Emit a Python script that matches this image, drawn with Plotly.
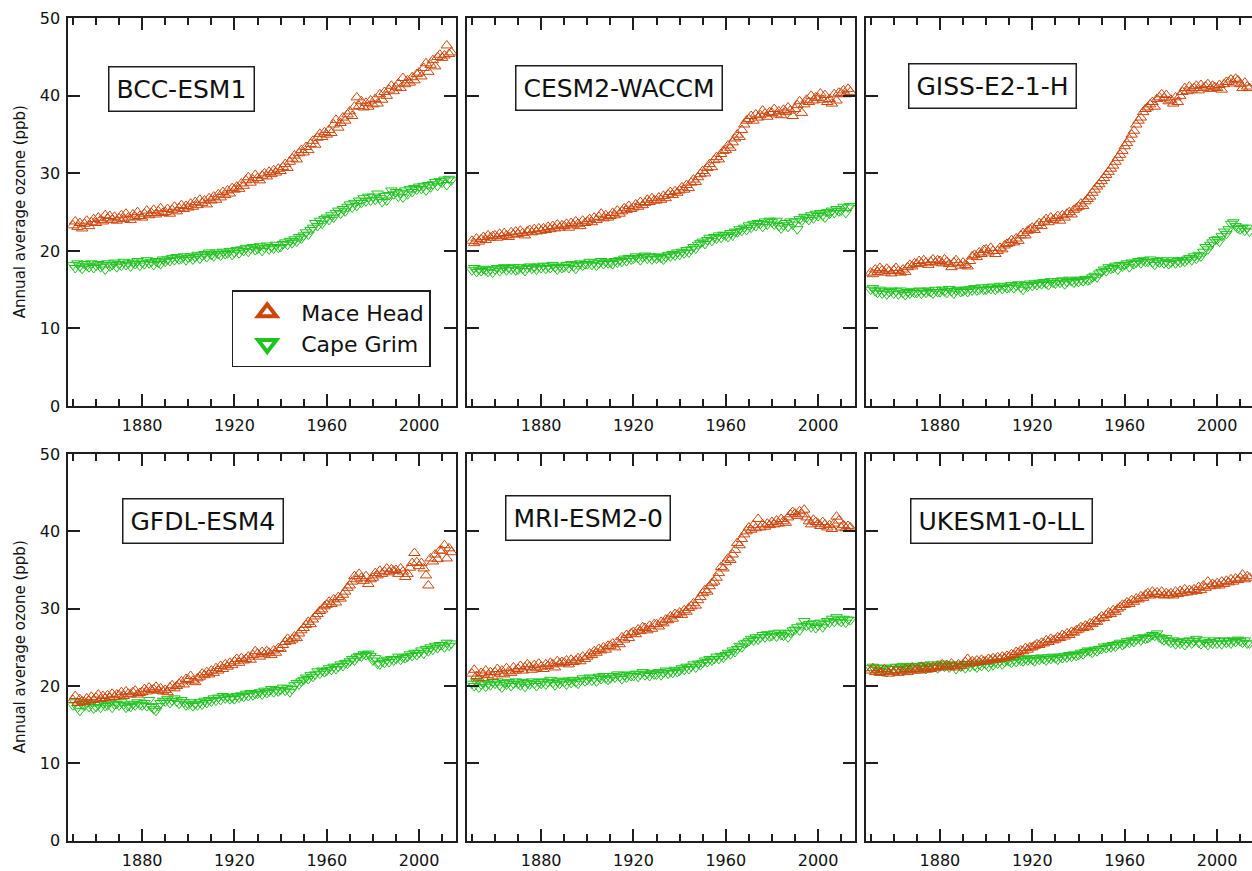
import plotly.graph_objects as go

years = list(range(1850, 2015))

models = ["BCC-ESM1", "CESM2-WACCM", "GISS-E2-1-H", "GFDL-ESM4", "MRI-ESM2-0", "UKESM1-0-LL"]
series_names = ["Mace Head", "Cape Grim"]
x_tick_vals = [1880, 1920, 1960, 2000]
y_tick_vals = [0, 10, 20, 30, 40, 50]
y_title = "Annual average ozone (ppb)"

bcc_mh = [23.3, 23.8, 23.1, 23.6, 22.9, 23.5, 23.9, 23.2, 23.7, 24.1,
          23.6, 24.3, 24.0, 23.8, 24.6, 24.2, 24.5, 24.0, 24.4, 23.9,
          24.2, 24.6, 24.1, 24.8, 24.3, 24.0, 24.7, 24.4, 25.0, 24.5,
          24.3, 24.8, 25.2, 24.6, 24.9, 25.3, 24.7, 25.1, 25.5, 24.9,
          25.0, 25.4, 24.8, 25.3, 25.7, 25.1, 25.5, 25.9, 25.4, 25.8,
          25.6, 26.1, 25.7, 26.3, 25.9, 26.6, 26.2, 26.5, 26.0, 26.8,
          26.5, 27.0, 26.6, 27.3, 26.9, 27.6, 27.2, 27.8, 27.4, 28.1,
          27.9, 28.3, 28.0, 28.7, 28.4, 29.1, 29.5, 28.8, 29.2, 29.8,
          29.4, 29.1, 29.7, 30.0, 29.6, 30.2, 29.9, 30.4, 30.1, 30.6,
          30.3, 30.8, 31.2, 30.7, 31.5, 31.9, 32.3, 31.8, 32.6, 33.0,
          32.7, 33.4, 33.0, 33.8, 34.2, 33.7, 34.6, 35.1, 34.7, 35.3,
          35.0, 35.6, 35.2, 36.3, 36.9, 35.9, 36.5, 37.2, 36.8, 37.6,
          38.0, 37.4, 38.6, 39.8, 38.7, 39.3, 38.5, 39.1, 38.6, 39.4,
          38.9, 39.6, 39.0, 40.2, 39.5, 40.5, 40.0, 40.8, 41.3, 40.6,
          41.1, 41.6, 41.0, 42.3, 41.5, 42.0, 41.7, 42.4, 42.0, 42.8,
          43.0, 42.5, 43.6, 44.2, 43.1, 44.0, 44.6, 43.8, 45.0, 45.3,
          44.9, 45.2, 46.5, 45.4, 45.6]
bcc_cg = [18.2, 17.8, 18.4, 18.0, 17.7, 18.3, 18.1, 17.9, 18.4, 17.8,
          18.1, 18.3, 17.9, 18.2, 17.6, 18.4, 18.0, 18.2, 18.5, 17.9,
          18.3, 18.1, 18.6, 18.2, 18.4, 18.0, 18.5, 18.3, 18.7, 18.1,
          18.5, 18.3, 18.8, 18.4, 18.6, 18.2, 18.7, 18.5, 18.3, 18.9,
          18.6, 18.9, 18.7, 19.1, 18.8, 19.2, 18.9, 19.0, 19.3, 18.8,
          19.1, 19.3, 18.9, 19.2, 19.5, 19.0, 19.4, 19.6, 19.2, 19.8,
          19.5, 19.3, 19.8, 19.6, 19.4, 19.9, 19.6, 19.7, 20.0, 19.5,
          19.8, 20.1, 19.7, 20.2, 20.0, 20.4, 19.9, 20.3, 20.5, 20.1,
          20.3, 20.6, 20.0, 20.4, 20.7, 20.2, 20.5, 20.3, 20.8, 20.4,
          20.5, 20.9, 21.1, 20.8, 21.3, 21.0, 21.5, 21.2, 21.8, 21.6,
          22.0, 22.4, 22.1, 22.7, 23.0, 23.6, 23.2, 23.9, 23.5, 24.1,
          24.3, 24.0, 24.6, 24.3, 24.9, 25.2, 24.8, 25.4, 25.1, 25.7,
          26.0, 25.6, 26.2, 25.8, 26.5, 26.2, 26.8, 26.4, 27.0, 26.5,
          27.0, 26.6, 27.4, 26.8, 26.3, 27.1, 26.5, 27.2, 27.8, 27.3,
          27.6, 27.0, 27.5, 26.9, 27.8, 27.3, 28.0, 27.6, 28.1, 27.9,
          28.3, 28.0, 28.4, 27.8, 28.5, 28.2, 28.6, 28.9, 28.4, 29.0,
          28.8, 29.2, 28.5, 29.3, 29.1]

cesm_mh = [21.3, 21.0, 21.6, 21.2, 21.5, 21.8, 21.4, 22.0, 21.7, 21.9,
           22.0, 21.7, 22.2, 21.9, 22.3, 22.0, 21.8, 22.4, 22.1, 22.5,
           22.2, 22.6, 22.3, 22.0, 22.5, 22.7, 22.4, 22.8, 22.5, 22.9,
           22.6, 22.9, 22.7, 23.1, 22.8, 23.2, 22.9, 23.4, 23.0, 23.3,
           23.2, 23.5, 23.0, 23.6, 23.3, 23.8, 23.5, 23.2, 23.9, 23.6,
           23.8, 24.1, 23.7, 24.3, 24.0, 24.4, 24.8, 24.2, 24.6, 24.3,
           24.5, 24.9, 24.6, 25.2, 24.8, 25.1, 25.5, 25.3, 25.8, 25.4,
           25.6, 26.0, 25.7, 26.3, 25.9, 26.2, 26.6, 26.3, 26.8, 26.5,
           26.5, 26.9, 26.6, 27.1, 26.8, 27.3, 27.6, 27.2, 27.7, 27.5,
           27.8, 28.2, 27.9, 28.5, 28.1, 28.8, 29.2, 28.9, 29.5, 29.9,
           30.3, 30.0, 30.7, 31.2, 30.8, 31.7, 32.1, 31.8, 32.5, 32.9,
           33.0, 33.6, 33.3, 34.0, 34.5, 35.0, 34.7, 35.6, 36.3, 36.8,
           37.0, 37.4, 36.8, 37.6, 37.2, 37.5, 38.1, 37.7, 37.3, 37.9,
           37.8, 38.3, 37.6, 38.0, 37.5, 38.2, 37.9, 38.5, 38.1, 37.4,
           38.3, 38.8, 39.3, 37.8, 38.9, 39.5, 39.2, 40.0, 39.4, 39.8,
           39.7, 40.3, 39.5, 40.1, 39.2, 39.6, 39.0, 40.2, 39.4, 40.4,
           40.3, 40.7, 40.2, 40.9, 40.5]
cesm_cg = [17.5, 17.8, 17.3, 17.6, 17.4, 17.7, 17.5, 17.3, 17.6, 17.2,
           17.6, 17.8, 17.4, 17.7, 17.9, 17.5, 17.8, 17.6, 17.9, 17.5,
           17.6, 17.9, 17.7, 17.4, 17.8, 18.0, 17.7, 17.9, 17.6, 18.0,
           17.8, 18.1, 17.7, 18.0, 17.8, 18.2, 17.9, 17.6, 18.0, 17.8,
           17.9, 18.2, 17.8, 18.3, 18.0, 17.7, 18.2, 18.4, 18.1, 18.3,
           18.3, 18.6, 18.2, 18.5, 18.1, 18.4, 18.7, 18.3, 18.6, 18.4,
           18.5, 18.3, 18.7, 18.5, 18.8, 18.6, 19.0, 18.7, 19.1, 18.9,
           19.0, 19.3, 19.1, 18.8, 19.2, 19.4, 19.0, 19.3, 18.9, 19.2,
           19.0, 19.3, 19.1, 18.9, 19.2, 19.5, 19.3, 19.6, 19.4, 19.8,
           19.5, 19.9, 19.7, 20.1, 19.8, 20.2, 20.5, 20.3, 20.8, 21.0,
           21.2, 20.9, 21.4, 21.7, 21.3, 21.8, 21.6, 22.0, 21.7, 22.1,
           22.0, 21.8, 22.3, 22.0, 22.5, 22.4, 22.8, 22.6, 23.0, 22.7,
           23.3, 23.0, 23.5, 23.2, 23.6, 23.5, 23.1, 23.8, 23.4, 23.9,
           23.7, 23.4, 23.9, 23.2, 22.9, 23.3, 23.6, 23.1, 23.8, 23.4,
           23.8, 22.8, 24.1, 23.9, 24.4, 24.3, 24.0, 24.6, 24.2, 24.8,
           24.5, 24.9, 24.6, 24.3, 25.0, 24.8, 25.2, 24.9, 25.4, 25.1,
           25.2, 25.7, 24.9, 25.6, 25.8]

giss_mh = [17.2, 17.0, 17.6, 17.3, 17.8, 17.5, 17.2, 17.7, 17.4, 17.1,
           17.5, 17.8, 17.4, 17.2, 17.6, 17.3, 17.9, 18.2, 18.0, 18.4,
           18.3, 18.7, 18.4, 18.8, 18.5, 18.2, 18.6, 18.9, 18.5, 18.8,
           18.7, 18.4, 18.9, 18.6, 18.3, 17.9, 18.5, 18.8, 18.4, 18.1,
           18.5, 18.2, 18.0, 18.7, 19.3, 19.5, 19.2, 19.8, 19.6, 20.1,
           20.2, 19.8, 20.4, 20.0, 19.6, 20.0, 20.4, 20.2, 20.7, 20.9,
           21.0, 21.4, 21.1, 21.6, 21.3, 22.0, 22.3, 22.0, 22.6, 22.8,
           23.0, 22.7, 23.3, 23.6, 23.2, 23.8, 24.1, 23.7, 24.3, 24.0,
           24.2, 24.5, 23.9, 24.6, 24.3, 24.8, 25.0, 24.7, 25.3, 25.5,
           25.7, 26.1, 25.8, 26.4, 26.7, 27.0, 27.5, 27.9, 28.3, 28.6,
           29.0, 29.4, 29.8, 30.2, 30.6, 31.0, 31.5, 32.0, 32.4, 32.9,
           33.5, 33.9, 34.4, 35.0, 35.5, 36.3, 36.8, 37.2, 37.9, 38.3,
           38.5, 38.9, 39.2, 38.6, 39.6, 39.8, 40.2, 39.7, 40.1, 39.3,
           39.5, 39.0, 39.8, 39.2, 40.0, 40.5, 41.0, 40.6, 41.2, 40.8,
           41.0, 41.3, 40.7, 41.4, 41.0, 41.2, 41.5, 40.9, 41.3, 41.1,
           41.0, 41.4, 40.8, 41.5, 41.8, 41.8, 42.1, 41.6, 42.2, 42.0,
           41.5, 41.0, 41.7, 41.2, 41.0]
giss_cg = [15.0, 15.2, 14.8, 14.6, 15.0, 14.5, 14.8, 14.4, 14.7, 14.9,
           14.5, 14.8, 14.4, 14.9, 14.6, 14.3, 14.7, 14.5, 14.8, 14.6,
           14.6, 14.9, 14.5, 14.8, 14.6, 14.9, 14.7, 14.5, 15.0, 14.7,
           14.7, 15.0, 14.8, 14.6, 15.1, 14.8, 14.5, 14.9, 15.0, 14.7,
           14.8, 15.0, 14.7, 15.1, 14.9, 15.2, 14.9, 15.0, 15.3, 15.0,
           15.0, 15.3, 15.1, 15.4, 15.0, 15.2, 15.5, 15.1, 15.4, 15.2,
           15.3, 15.6, 15.2, 15.5, 15.7, 15.3, 15.0, 15.6, 15.4, 15.8,
           15.5, 15.8, 15.6, 15.9, 15.7, 16.0, 15.8, 15.6, 16.1, 15.9,
           15.8, 16.1, 15.9, 16.2, 15.7, 16.0, 16.3, 16.1, 15.9, 16.2,
           16.0, 16.3, 16.1, 16.4, 16.2, 16.3, 16.6, 16.8, 16.6, 17.1,
           17.3, 17.6, 17.4, 17.9, 17.7, 17.8, 18.1, 17.6, 18.2, 18.0,
           18.2, 18.4, 17.9, 18.5, 18.3, 18.5, 18.7, 18.4, 18.8, 18.6,
           18.6, 18.9, 18.5, 18.2, 18.7, 18.5, 18.8, 18.4, 18.6, 18.3,
           18.5, 18.8, 18.4, 18.7, 18.5, 18.8, 18.6, 18.9, 19.1, 18.8,
           19.3, 19.0, 19.5, 19.3, 19.9, 20.5, 20.2, 20.8, 21.1, 21.4,
           21.5, 21.2, 21.9, 22.5, 22.2, 22.8, 23.5, 23.7, 23.2, 22.9,
           22.8, 23.0, 22.6, 23.0, 22.5]

gfdl_mh = [18.2, 18.7, 17.8, 18.3, 18.0, 17.9, 18.4, 18.1, 18.6, 18.2,
           18.5, 18.9, 18.3, 18.7, 18.4, 18.8, 18.5, 19.0, 18.6, 18.9,
           18.8, 19.2, 18.7, 19.3, 19.0, 18.9, 19.2, 19.4, 18.9, 19.1,
           19.2, 19.6, 19.3, 19.8, 19.5, 19.6, 19.9, 19.4, 19.7, 19.3,
           19.5, 19.2, 19.8, 20.1, 19.7, 20.0, 20.3, 20.6, 20.2, 20.9,
           20.8, 21.3, 20.7, 20.5, 21.0, 21.2, 21.6, 21.4, 21.8, 21.5,
           22.0, 21.7, 22.3, 22.0, 22.6, 22.2, 22.8, 22.5, 23.0, 22.7,
           23.2, 23.5, 23.0, 23.6, 23.3, 23.5, 23.8, 23.4, 24.0, 24.5,
           24.2, 23.8, 24.4, 24.1, 24.5, 24.3, 24.0, 24.6, 24.3, 24.9,
           24.8, 25.3, 25.7, 26.1, 25.8, 26.0, 26.4, 26.2, 26.8, 27.2,
           27.5, 27.9, 28.3, 28.0, 28.6, 29.0, 29.3, 29.7, 29.9, 30.3,
           30.5, 30.9, 30.6, 31.2, 30.8, 31.5, 31.3, 31.8, 32.2, 32.7,
           33.0, 33.5, 34.2, 33.8, 34.5, 34.0, 33.6, 34.2, 33.2, 33.8,
           34.0, 34.6, 34.3, 34.9, 34.5, 34.8, 35.2, 34.7, 35.1, 34.9,
           35.0, 34.5, 35.2, 34.8, 34.1, 34.5, 35.3, 35.9, 37.2, 36.0,
           35.5, 35.9, 35.2, 34.3, 33.0, 36.5, 36.1, 37.0, 36.4, 37.5,
           37.5, 38.2, 36.5, 37.8, 37.3]
gfdl_cg = [17.5, 17.9, 17.2, 16.8, 17.6, 17.4, 17.9, 17.3, 17.7, 17.1,
           17.3, 17.6, 17.2, 17.8, 17.4, 17.5, 17.9, 17.2, 17.6, 17.7,
           17.5, 17.9, 17.6, 17.2, 17.4, 17.3, 17.7, 17.5, 17.9, 17.6,
           17.5, 17.8, 17.4, 18.2, 17.3, 17.0, 16.8, 17.4, 17.8, 18.1,
           18.0, 18.3, 17.8, 18.1, 18.4, 18.0, 17.7, 18.2, 17.9, 17.5,
           17.6, 17.9, 17.4, 17.7, 17.5, 17.9, 17.6, 18.1, 17.8, 18.2,
           18.0, 18.4, 18.1, 18.5, 18.2, 18.7, 18.4, 18.6, 18.3, 18.5,
           18.3, 18.7, 18.5, 18.8, 18.6, 19.0, 18.7, 19.1, 18.8, 19.0,
           19.0, 19.2, 18.9, 19.4, 19.1, 19.3, 19.6, 19.2, 19.5, 19.3,
           19.5, 19.8, 19.4, 19.7, 19.2, 19.6, 20.1, 20.4, 20.2, 20.6,
           20.8, 21.1, 20.9, 21.4, 21.2, 21.5, 21.9, 21.6, 22.0, 21.8,
           22.0, 22.3, 22.1, 22.5, 22.2, 22.5, 22.8, 22.6, 23.0, 22.9,
           23.2, 23.5, 23.3, 23.7, 23.9, 23.8, 24.1, 24.0, 24.2, 23.9,
           23.3, 23.6, 22.9, 22.8, 23.2, 23.0, 23.4, 23.1, 23.5, 23.3,
           23.5, 23.8, 23.4, 23.7, 23.6, 23.8, 24.1, 23.9, 24.3, 24.0,
           24.3, 24.6, 24.2, 24.8, 24.5, 25.0, 24.7, 25.2, 24.9, 25.3,
           25.3, 25.0, 25.6, 25.2, 25.5]

mri_mh = [21.6, 22.1, 21.3, 21.0, 21.7, 21.5, 22.0, 21.4, 21.8, 21.2,
          21.8, 22.2, 21.6, 22.0, 21.5, 22.3, 21.9, 21.7, 22.4, 22.0,
          22.2, 22.6, 22.0, 22.4, 22.8, 22.5, 22.1, 22.7, 22.3, 22.9,
          22.5, 22.2, 22.8, 22.6, 23.0, 22.8, 22.4, 23.2, 22.9, 23.1,
          23.0, 23.3, 22.8, 23.4, 23.1, 23.3, 23.6, 23.2, 23.8, 23.5,
          23.8, 24.2, 24.0, 24.5, 24.3, 24.8, 24.6, 25.0, 24.7, 25.2,
          25.2, 25.5, 25.0, 25.7, 25.4, 26.3, 26.0, 26.6, 26.2, 26.8,
          27.0, 26.7, 27.3, 27.1, 27.6, 27.5, 27.2, 27.8, 27.4, 28.0,
          28.0, 27.7, 28.3, 28.1, 28.6, 28.5, 29.0, 28.7, 29.3, 29.2,
          29.5, 29.2, 29.8, 29.6, 30.1, 30.3, 30.7, 30.4, 31.1, 31.5,
          32.0, 32.4, 32.2, 32.9, 33.3, 33.5, 34.0, 34.6, 35.4, 35.2,
          36.0, 36.5, 36.3, 37.0, 37.6, 38.5, 38.2, 39.0, 39.6, 40.0,
          40.5, 40.2, 40.8, 40.4, 41.6, 40.5, 40.9, 40.6, 41.0, 40.8,
          41.2, 40.9, 41.4, 41.0, 41.6, 41.3, 41.1, 41.8, 42.2, 42.5,
          42.3, 42.0, 42.6, 42.2, 42.8, 41.8, 41.3, 40.9, 41.5, 41.2,
          41.0, 40.7, 41.2, 40.9, 40.5, 40.8, 40.3, 41.0, 41.9, 41.4,
          40.5, 40.8, 40.4, 40.7, 40.5]
mri_cg = [20.3, 20.0, 20.5, 19.8, 20.2, 20.4, 19.9, 20.3, 20.1, 20.5,
          20.3, 20.6, 20.1, 19.8, 20.4, 20.2, 20.5, 20.0, 20.3, 20.6,
          20.3, 20.1, 20.5, 19.9, 20.4, 20.2, 20.6, 20.3, 20.0, 20.5,
          20.3, 20.6, 20.2, 20.5, 20.8, 20.4, 20.1, 20.6, 20.3, 20.7,
          20.5, 20.2, 20.7, 20.4, 20.8, 20.5, 20.3, 20.7, 21.0, 20.6,
          20.8, 21.1, 20.7, 21.0, 20.6, 21.2, 20.9, 21.3, 21.0, 20.8,
          21.0, 21.3, 21.1, 21.5, 21.2, 20.9, 21.4, 21.1, 21.5, 21.3,
          21.3, 21.6, 21.2, 21.5, 21.8, 21.4, 21.6, 21.3, 21.7, 21.5,
          21.5, 21.8, 21.4, 21.7, 22.0, 21.6, 21.9, 21.7, 22.1, 21.8,
          22.0, 22.3, 22.1, 22.5, 22.2, 22.5, 22.8, 22.4, 22.9, 22.7,
          23.0, 23.3, 23.1, 23.5, 23.3, 23.5, 23.8, 23.5, 23.9, 23.7,
          24.0, 24.3, 24.1, 24.6, 24.4, 24.8, 25.2, 25.0, 25.5, 25.6,
          25.8, 26.1, 25.9, 26.3, 26.0, 26.3, 26.6, 26.3, 26.7, 26.4,
          26.5, 26.8, 26.4, 26.9, 26.6, 26.5, 26.8, 26.3, 26.9, 27.2,
          27.3, 27.6, 27.2, 27.8, 28.4, 27.8, 28.0, 27.6, 28.1, 27.5,
          27.8, 28.2, 27.6, 28.0, 28.4, 28.2, 28.7, 28.3, 28.9, 28.5,
          28.3, 28.7, 28.2, 28.6, 28.5]

uk_mh = [22.0, 22.3, 21.8, 22.1, 21.7, 21.8, 22.2, 21.9, 21.6, 22.0,
         21.8, 22.1, 21.7, 22.0, 21.9, 22.2, 21.8, 22.1, 22.4, 22.0,
         22.2, 22.0, 22.5, 22.3, 22.1, 22.4, 22.2, 22.5, 22.3, 22.6,
         22.5, 22.8, 22.4, 22.7, 22.5, 22.9, 22.6, 22.4, 22.8, 22.6,
         22.8, 23.1, 23.5, 22.9, 23.2, 23.0, 23.3, 23.1, 23.4, 23.2,
         23.2, 23.5, 23.3, 23.6, 23.4, 23.7, 23.5, 23.8, 23.6, 23.9,
         23.8, 24.1, 24.0, 24.4, 24.3, 24.6, 24.5, 24.9, 24.7, 25.0,
         25.0, 25.2, 25.4, 25.3, 25.6, 25.5, 25.9, 25.7, 26.1, 25.9,
         26.0, 26.3, 26.2, 26.6, 26.4, 26.8, 26.6, 27.0, 26.9, 27.2,
         27.3, 27.6, 27.5, 27.8, 27.6, 28.1, 28.0, 28.4, 28.3, 28.7,
         29.0, 28.8, 29.2, 29.5, 29.3, 29.8, 29.6, 30.0, 30.2, 30.5,
         30.5, 30.8, 30.6, 31.1, 30.9, 31.3, 31.2, 31.6, 31.4, 31.8,
         32.0, 31.7, 32.2, 31.9, 32.1, 31.8, 32.2, 31.7, 32.0, 31.8,
         32.0, 31.7, 32.2, 31.9, 32.3, 32.0, 32.5, 32.1, 32.4, 32.2,
         32.5, 32.3, 32.8, 32.4, 33.0, 32.7, 33.5, 32.9, 33.2, 33.0,
         33.3, 33.0, 33.5, 33.2, 33.6, 33.4, 33.8, 33.5, 33.9, 33.7,
         34.0, 34.4, 33.8, 34.2, 34.0]
uk_cg = [22.3, 22.5, 22.1, 22.4, 22.0, 21.9, 22.3, 21.8, 22.2, 22.4,
         22.2, 22.5, 22.1, 22.4, 22.6, 22.2, 22.5, 22.3, 22.6, 22.4,
         22.3, 22.6, 22.4, 22.7, 22.2, 22.5, 22.8, 22.4, 22.6, 22.3,
         22.6, 22.9, 22.5, 22.8, 22.4, 22.7, 22.6, 22.2, 22.8, 22.5,
         22.6, 22.3, 22.8, 22.5, 22.9, 22.6, 22.4, 22.8, 22.6, 23.0,
         22.8, 22.5, 23.0, 22.7, 23.1, 22.9, 23.2, 22.8, 23.1, 23.3,
         23.2, 23.0, 23.4, 23.1, 23.5, 23.3, 23.2, 23.5, 23.3, 23.6,
         23.4, 23.2, 23.6, 23.4, 23.7, 23.5, 23.3, 23.7, 23.5, 23.8,
         23.6, 23.4, 23.8, 23.6, 23.9, 23.7, 24.0, 23.8, 24.1, 23.9,
         24.0, 24.3, 24.1, 24.4, 24.6, 24.5, 24.3, 24.7, 24.5, 24.8,
         24.8, 25.1, 24.9, 25.2, 25.0, 25.3, 25.1, 25.4, 25.6, 25.3,
         25.5, 25.8, 25.6, 25.9, 25.7, 26.0, 26.2, 25.9, 26.3, 26.1,
         26.2, 26.4, 26.6, 26.5, 26.8, 26.3, 26.1, 25.9, 26.2, 25.8,
         25.6, 25.9, 25.4, 25.7, 25.5, 25.8, 25.3, 25.6, 25.9, 25.5,
         25.8, 26.1, 25.6, 25.4, 25.9, 25.6, 25.3, 25.7, 25.5, 25.9,
         25.5, 25.8, 25.4, 25.9, 25.6, 25.8, 25.5, 25.9, 25.7, 26.0,
         25.8, 25.6, 25.9, 25.5, 25.5]

panel_data = [
    (bcc_mh, bcc_cg), (cesm_mh, cesm_cg), (giss_mh, giss_cg),
    (gfdl_mh, gfdl_cg), (mri_mh, mri_cg), (uk_mh, uk_cg),
]

# ---------------- styling / layout ----------------
W, H = 1252, 871
ORANGE = "rgb(204,70,12)"
GREEN = "rgb(30,195,30)"
AXC = "#1e1e1e"
FONT = "DejaVu Sans"

col_px = [(68.3, 456.0), (467.3, 855.0), (866.0, 1252.0)]
row_px = [(18.3, 406.0), (454.0, 840.7)]
x_ranges = [[1848, 2016], [1848, 2016], [1848, 2015.1]]
label_centers = [(181.3, 88.8), (618.5, 88.0), (992.8, 86.0),
                 (203.5, 520.5), (588.2, 517.5), (1001.3, 520.7)]

def px2x(p):
    return p / W

def px2y(p):
    return 1 - p / H

fig = go.Figure()
layout = dict(
    template="none",
    width=W, height=H, autosize=False,
    margin=dict(l=0, r=0, t=0, b=0, pad=0, autoexpand=False),
    paper_bgcolor="white", plot_bgcolor="white",
    font=dict(family=FONT, color="#111", size=16),
    showlegend=True,
    legend=dict(
        x=px2x(231.7), y=px2y(290), xanchor="left", yanchor="top",
        bordercolor=AXC, borderwidth=1.5, bgcolor="white",
        font=dict(family=FONT, size=22, color="#111"),
        itemwidth=58, tracegroupgap=0,
    ),
    annotations=[],
)

for i in range(6):
    r, c = divmod(i, 3)
    ax = "" if i == 0 else str(i + 1)
    xa, ya = "x" + ax, "y" + ax
    mh, cg = panel_data[i]
    fig.add_trace(go.Scatter(
        x=years, y=cg, mode="markers", xaxis=xa, yaxis=ya, showlegend=False,
        name=series_names[1],
        marker=dict(symbol="triangle-down-open", size=10, color=GREEN,
                    line=dict(width=1, color=GREEN)),
    ))
    fig.add_trace(go.Scatter(
        x=years, y=mh, mode="markers", xaxis=xa, yaxis=ya, showlegend=False,
        name=series_names[0],
        marker=dict(symbol="triangle-up-open", size=10, color=ORANGE,
                    line=dict(width=1, color=ORANGE)),
    ))
    layout["xaxis" + ax] = dict(
        domain=[px2x(col_px[c][0]), px2x(col_px[c][1])],
        anchor=ya, range=x_ranges[c], automargin=False,
        showline=True, linecolor=AXC, linewidth=2, mirror="ticks",
        ticks="inside", ticklen=12, tickwidth=1.5, tickcolor=AXC,
        tickmode="array", tickvals=x_tick_vals,
        minor=dict(ticks="inside", ticklen=7, tickwidth=1.5, tickcolor=AXC,
                   dtick=10, tick0=1850, showgrid=False),
        showgrid=False, zeroline=False,
        tickfont=dict(family=FONT, size=16, color="#111"),
        ticklabelstandoff=4,
    )
    layout["yaxis" + ax] = dict(
        domain=[px2y(row_px[r][1]), px2y(row_px[r][0])],
        anchor=xa, range=[0, 50], automargin=False,
        showline=True, linecolor=AXC, linewidth=2,
        mirror=("ticks" if c < 2 else False),
        ticks="inside", ticklen=12, tickwidth=1.5, tickcolor=AXC,
        tickmode="array", tickvals=y_tick_vals,
        showticklabels=(c == 0),
        showgrid=False, zeroline=False,
        tickfont=dict(family=FONT, size=16, color="#111"),
        ticklabelstandoff=3,
    )
    lx, ly = label_centers[i]
    layout["annotations"].append(dict(
        text=models[i], xref="paper", yref="paper",
        x=px2x(lx), y=px2y(ly), xanchor="center", yanchor="middle",
        showarrow=False, font=dict(family=FONT, size=25, color="#111"),
        bordercolor=AXC, borderwidth=1.5, borderpad=7, bgcolor="white",
    ))

for r in range(2):
    cy = (row_px[r][0] + row_px[r][1]) / 2
    layout["annotations"].append(dict(
        text=y_title, xref="paper", yref="paper",
        x=px2x(20), y=px2y(cy), xanchor="center", yanchor="middle",
        textangle=-90, showarrow=False,
        font=dict(family=FONT, size=15, color="#111"),
    ))

# legend-only entries
fig.add_trace(go.Scatter(
    x=[None], y=[None], mode="markers", name=series_names[0], xaxis="x", yaxis="y",
    marker=dict(symbol="triangle-up-open", size=16, color=ORANGE,
                line=dict(width=4, color=ORANGE)),
))
fig.add_trace(go.Scatter(
    x=[None], y=[None], mode="markers", name=series_names[1], xaxis="x", yaxis="y",
    marker=dict(symbol="triangle-down-open", size=16, color=GREEN,
                line=dict(width=4, color=GREEN)),
))

fig.update_layout(**layout)
fig.write_html(
    "out.html",
    config={"displayModeBar": False},
    post_script="document.body.style.margin='0';document.body.style.overflow='hidden';",
)
